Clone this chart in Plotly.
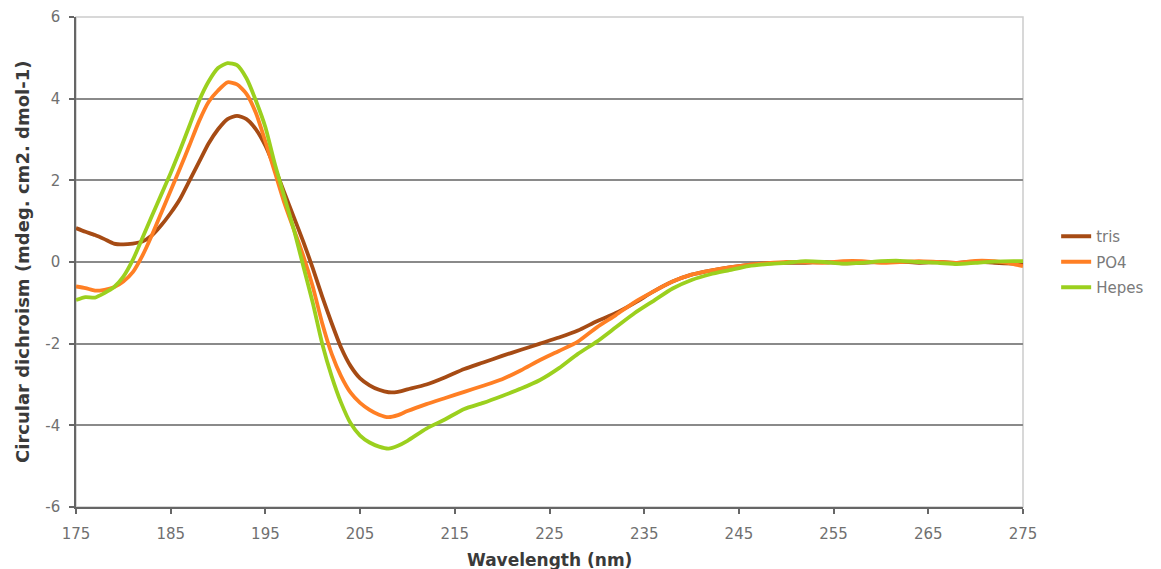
import plotly.graph_objects as go

wavelength = [175, 176, 177, 178, 179, 180, 181, 182, 183, 184, 185, 186, 187, 188, 189,
              190, 191, 192, 193, 194, 195, 196, 197, 198, 199, 200, 201, 202, 203, 204,
              205, 206, 207, 208, 209, 210, 212, 214, 216, 218, 220, 222, 224, 226, 228,
              230, 232, 234, 236, 238, 240, 242, 244, 246, 248, 250, 252, 254, 256, 258,
              260, 262, 264, 266, 268, 270, 272, 274, 275]

tris = [0.83, 0.74, 0.66, 0.56, 0.45, 0.43, 0.45, 0.5, 0.65, 0.9, 1.2, 1.55, 2.0, 2.45, 2.9,
        3.25, 3.5, 3.58, 3.5, 3.25, 2.85, 2.3, 1.7, 1.1, 0.5, -0.15, -0.85, -1.5, -2.1, -2.55,
        -2.85, -3.02, -3.13, -3.19, -3.18, -3.12, -3.0, -2.82, -2.62, -2.46, -2.3, -2.15, -2.0, -1.85, -1.68,
        -1.45, -1.25, -1.0, -0.72, -0.48, -0.31, -0.21, -0.13, -0.07, -0.03, -0.02, -0.02, 0.0, -0.03, -0.02,
        0.0, 0.01, -0.02, 0.0, -0.02, 0.01, -0.02, -0.04, -0.05]

po4 = [-0.6, -0.64, -0.7, -0.68, -0.62, -0.48, -0.25, 0.15, 0.65, 1.2, 1.75, 2.3, 2.87, 3.45, 3.92,
       4.2, 4.4, 4.35, 4.12, 3.65, 2.95, 2.2, 1.45, 0.8, 0.15, -0.6, -1.5, -2.25, -2.8, -3.2,
       -3.45, -3.62, -3.74, -3.8, -3.75, -3.65, -3.48, -3.33, -3.18, -3.03, -2.87, -2.65, -2.4, -2.18, -1.95,
       -1.6, -1.3, -0.98, -0.72, -0.48, -0.31, -0.21, -0.13, -0.07, -0.03, 0.0, 0.0, -0.02, 0.02, 0.02,
       -0.02, 0.0, 0.02, 0.0, -0.02, 0.03, 0.02, -0.05, -0.1]

hepes = [-0.93, -0.86, -0.87, -0.76, -0.62, -0.36, 0.05, 0.58, 1.12, 1.65, 2.18, 2.75, 3.35, 3.95, 4.42,
         4.75, 4.87, 4.82, 4.5, 3.95, 3.3, 2.4, 1.6, 0.8, -0.1, -1.0, -2.0, -2.8, -3.45, -3.95,
         -4.25, -4.42, -4.52, -4.57, -4.5, -4.38, -4.08, -3.85, -3.6, -3.45, -3.28, -3.1, -2.89, -2.6, -2.25,
         -1.95, -1.6, -1.25, -0.95, -0.65, -0.44, -0.3, -0.2, -0.1, -0.05, -0.02, 0.02, 0.0, -0.04, -0.02,
         0.02, 0.03, 0.0, -0.02, -0.05, -0.02, 0.01, 0.02, 0.02]

series_names = ["tris", "PO4", "Hepes"]
series_colors = ["#A64B14", "#FF7F24", "#9BD01E"]

x_ticks = [175, 185, 195, 205, 215, 225, 235, 245, 255, 265, 275]
y_ticks = [-6, -4, -2, 0, 2, 4, 6]

x_title = "Wavelength (nm)"
y_title = "Circular dichroism (mdeg. cm2. dmol-1)"

fig = go.Figure()
for name, vals, col in zip(series_names, [tris, po4, hepes], series_colors):
    fig.add_trace(go.Scatter(
        x=wavelength, y=vals, name=name, mode="lines", legendgroup=name,
        line=dict(color=col, width=3.8, shape="spline", smoothing=0.6),
    ))

font_family = "DejaVu Sans, Verdana, sans-serif"

fig.update_layout(
    width=1161, height=569,
    margin=dict(l=68, r=146, t=9, b=70),
    paper_bgcolor="white", plot_bgcolor="white",
    font=dict(family=font_family, size=15, color="#707070"),
    showlegend=True,
    legend=dict(x=1.035, y=0.5, xanchor="left", yanchor="middle",
                font=dict(size=15, color="#7a7a7a"),
                bgcolor="rgba(0,0,0,0)", tracegroupgap=3),
    xaxis=dict(
        range=[175, 275], tickvals=x_ticks, ticktext=[str(v) for v in x_ticks],
        showgrid=False, zeroline=False, automargin=False,
        showline=True, linecolor="#666666", linewidth=1.5,
        ticks="outside", ticklen=5, tickcolor="#666666", tickwidth=1.5,
        ticklabelstandoff=7,
        tickfont=dict(size=15, color="#707070"),
    ),
    yaxis=dict(
        range=[-6, 6], tickvals=y_ticks, ticktext=[str(v) for v in y_ticks],
        showgrid=True, gridcolor="#8a8a8a", gridwidth=1.5,
        zeroline=False, automargin=False,
        showline=True, linecolor="#666666", linewidth=1.5,
        ticks="outside", ticklen=5, tickcolor="#666666", tickwidth=1.5,
        ticklabelstandoff=6,
        tickfont=dict(size=15, color="#707070"),
    ),
    shapes=[dict(type="rect", xref="paper", yref="paper", x0=0, x1=1, y0=0, y1=1,
                 line=dict(color="#cccccc", width=1.5), layer="below")],
    annotations=[
        dict(text="<b>" + x_title + "</b>", xref="paper", yref="paper", x=0.5, y=0,
             xanchor="center", yanchor="middle", yshift=-53, showarrow=False,
             font=dict(size=17, color="#3a3a3a")),
        dict(text="<b>" + y_title + "</b>", xref="paper", yref="paper", x=0, y=0.5,
             xanchor="center", yanchor="middle", xshift=-54, textangle=-90, showarrow=False,
             font=dict(size=18, color="#3a3a3a")),
    ],
)

fig.write_html("out.html")
